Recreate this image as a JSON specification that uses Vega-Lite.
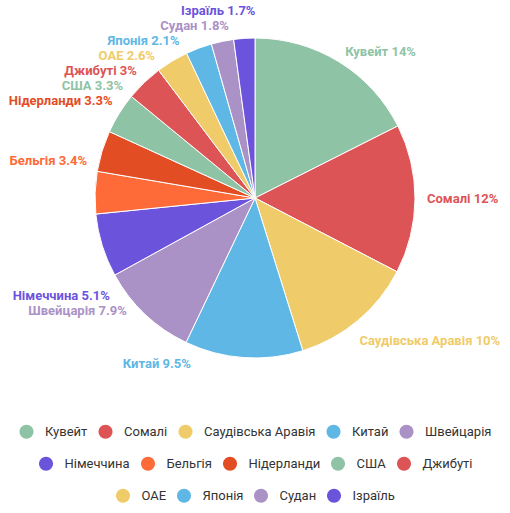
{
  "$schema": "https://vega.github.io/schema/vega-lite/v6.json",
  "width": 510,
  "height": 396,
  "autosize": {"type": "none"},
  "padding": {"left": 0, "top": 0, "right": 0, "bottom": 117},
  "background": "white",
  "config": {
    "view": {"stroke": null},
    "font": "Roboto",
    "legend": {"layout": {"bottom": {"anchor": "middle", "direction": "vertical", "center": true, "margin": 17}}}
  },
  "data": {
    "values": [
      {"order": 1, "country": "Кувейт", "value": 14, "label": "Кувейт 14%"},
      {"order": 2, "country": "Сомалі", "value": 12, "label": "Сомалі 12%"},
      {"order": 3, "country": "Саудівська Аравія", "value": 10, "label": "Саудівська Аравія 10%"},
      {"order": 4, "country": "Китай", "value": 9.5, "label": "Китай 9.5%"},
      {"order": 5, "country": "Швейцарія", "value": 7.9, "label": "Швейцарія 7.9%"},
      {"order": 6, "country": "Німеччина", "value": 5.1, "label": "Німеччина 5.1%"},
      {"order": 7, "country": "Бельгія", "value": 3.4, "label": "Бельгія 3.4%"},
      {"order": 8, "country": "Нідерланди", "value": 3.3, "label": "Нідерланди 3.3%"},
      {"order": 9, "country": "США", "value": 3.3, "label": "США 3.3%"},
      {"order": 10, "country": "Джибуті", "value": 3, "label": "Джибуті 3%"},
      {"order": 11, "country": "ОАЕ", "value": 2.6, "label": "ОАЕ 2.6%"},
      {"order": 12, "country": "Японія", "value": 2.1, "label": "Японія 2.1%"},
      {"order": 13, "country": "Судан", "value": 1.8, "label": "Судан 1.8%"},
      {"order": 14, "country": "Ізраїль", "value": 1.7, "label": "Ізраїль 1.7%"}
    ]
  },
  "encoding": {
    "theta": {"field": "value", "type": "quantitative", "stack": true},
    "order": {"field": "order", "type": "quantitative"},
    "color": {
      "field": "country",
      "type": "nominal",
      "scale": {
        "domain": ["Кувейт", "Сомалі", "Саудівська Аравія", "Китай", "Швейцарія", "Німеччина", "Бельгія", "Нідерланди", "США", "Джибуті", "ОАЕ", "Японія", "Судан", "Ізраїль"],
        "range": ["#8fc3a6", "#dd5456", "#f0cb69", "#5eb7e5", "#ab92c6", "#6c53dc", "#fe6a38", "#e34d24", "#8fc3a6", "#dd5456", "#f0cb69", "#5eb7e5", "#ab92c6", "#6c53dc"]
      },
      "legend": null
    }
  },
  "resolve": {"scale": {"color": "independent"}, "legend": {"color": "independent"}},
  "layer": [
    {"mark": {"type": "arc", "outerRadius": 160, "stroke": "white", "strokeWidth": 1}},
    {
      "mark": {"type": "text", "radius": 172, "align": "left", "baseline": "middle", "fontSize": 13, "fontWeight": "bold"},
      "encoding": {"text": {"condition": {"test": "datum.order <= 2", "field": "label"}, "value": ""}}
    },
    {
      "mark": {"type": "text", "radius": 172, "align": "left", "baseline": "middle", "fontSize": 13, "fontWeight": "bold", "dx": -6, "dy": 11},
      "encoding": {"text": {"condition": {"test": "datum.order == 3", "field": "label"}, "value": ""}}
    },
    {
      "mark": {"type": "text", "radius": 172, "align": "right", "baseline": "middle", "fontSize": 13, "fontWeight": "bold", "dx": -52, "dy": -6},
      "encoding": {"text": {"condition": {"test": "datum.order == 4", "field": "label"}, "value": ""}}
    },
    {
      "mark": {"type": "text", "radius": 172, "align": "right", "baseline": "middle", "fontSize": 13, "fontWeight": "bold", "dx": -10, "dy": -12},
      "encoding": {"text": {"condition": {"test": "datum.order == 5", "field": "label"}, "value": ""}}
    },
    {
      "mark": {"type": "text", "radius": 172, "align": "right", "baseline": "middle", "fontSize": 13, "fontWeight": "bold", "dx": 19, "dy": 47},
      "encoding": {"text": {"condition": {"test": "datum.order == 6", "field": "label"}, "value": ""}}
    },
    {
      "mark": {"type": "text", "radius": 172, "align": "right", "baseline": "middle", "fontSize": 13, "fontWeight": "bold", "dx": 4, "dy": -31},
      "encoding": {"text": {"condition": {"test": "datum.order == 7", "field": "label"}, "value": ""}}
    },
    {
      "mark": {"type": "text", "radius": 172, "align": "right", "baseline": "middle", "fontSize": 13, "fontWeight": "bold", "dx": 22, "dy": -47},
      "encoding": {"text": {"condition": {"test": "datum.order == 8", "field": "label"}, "value": ""}}
    },
    {
      "mark": {"type": "text", "radius": 172, "align": "right", "baseline": "middle", "fontSize": 13, "fontWeight": "bold", "dx": 14, "dy": -21},
      "encoding": {"text": {"condition": {"test": "datum.order == 9", "field": "label"}, "value": ""}}
    },
    {
      "mark": {"type": "text", "radius": 172, "align": "right", "baseline": "middle", "fontSize": 13, "fontWeight": "bold", "dx": 1, "dy": -3},
      "encoding": {"text": {"condition": {"test": "datum.order == 10", "field": "label"}, "value": ""}}
    },
    {
      "mark": {"type": "text", "radius": 172, "align": "right", "baseline": "middle", "fontSize": 13, "fontWeight": "bold", "dx": -11, "dy": 5},
      "encoding": {"text": {"condition": {"test": "datum.order == 11", "field": "label"}, "value": ""}}
    },
    {
      "mark": {"type": "text", "radius": 172, "align": "right", "baseline": "middle", "fontSize": 13, "fontWeight": "bold", "dx": -15, "dy": 4},
      "encoding": {"text": {"condition": {"test": "datum.order == 12", "field": "label"}, "value": ""}}
    },
    {
      "mark": {"type": "text", "radius": 172, "align": "right", "baseline": "middle", "fontSize": 13, "fontWeight": "bold", "dx": 9, "dy": -4},
      "encoding": {"text": {"condition": {"test": "datum.order == 13", "field": "label"}, "value": ""}}
    },
    {
      "mark": {"type": "text", "radius": 172, "align": "right", "baseline": "middle", "fontSize": 13, "fontWeight": "bold", "dx": 12, "dy": -15},
      "encoding": {"text": {"condition": {"test": "datum.order == 14", "field": "label"}, "value": ""}}
    },
    {
      "transform": [{"filter": "datum.order <= 5"}],
      "mark": {"type": "arc", "outerRadius": 0},
      "encoding": {
        "color": {
          "field": "country", "type": "nominal",
          "scale": {"domain": ["Кувейт", "Сомалі", "Саудівська Аравія", "Китай", "Швейцарія"], "range": ["#8fc3a6", "#dd5456", "#f0cb69", "#5eb7e5", "#ab92c6"]},
          "legend": {"title": null, "orient": "bottom", "direction": "horizontal", "symbolType": "circle", "symbolSize": 200, "symbolStrokeWidth": 0, "symbolOpacity": 1, "labelFont": "Roboto", "labelFontSize": 13, "labelColor": "#333333", "labelOffset": 11, "columnPadding": 10, "offset": 28}
        }
      }
    },
    {
      "transform": [{"filter": "datum.order >= 6 && datum.order <= 10"}],
      "mark": {"type": "arc", "outerRadius": 0},
      "encoding": {
        "color": {
          "field": "country", "type": "nominal",
          "scale": {"domain": ["Німеччина", "Бельгія", "Нідерланди", "США", "Джибуті"], "range": ["#6c53dc", "#fe6a38", "#e34d24", "#8fc3a6", "#dd5456"]},
          "legend": {"title": null, "orient": "bottom", "direction": "horizontal", "symbolType": "circle", "symbolSize": 200, "symbolStrokeWidth": 0, "symbolOpacity": 1, "labelFont": "Roboto", "labelFontSize": 13, "labelColor": "#333333", "labelOffset": 11, "columnPadding": 10, "offset": 28}
        }
      }
    },
    {
      "transform": [{"filter": "datum.order >= 11"}],
      "mark": {"type": "arc", "outerRadius": 0},
      "encoding": {
        "color": {
          "field": "country", "type": "nominal",
          "scale": {"domain": ["ОАЕ", "Японія", "Судан", "Ізраїль"], "range": ["#f0cb69", "#5eb7e5", "#ab92c6", "#6c53dc"]},
          "legend": {"title": null, "orient": "bottom", "direction": "horizontal", "symbolType": "circle", "symbolSize": 200, "symbolStrokeWidth": 0, "symbolOpacity": 1, "labelFont": "Roboto", "labelFontSize": 13, "labelColor": "#333333", "labelOffset": 11, "columnPadding": 10, "offset": 28}
        }
      }
    }
  ]
}
